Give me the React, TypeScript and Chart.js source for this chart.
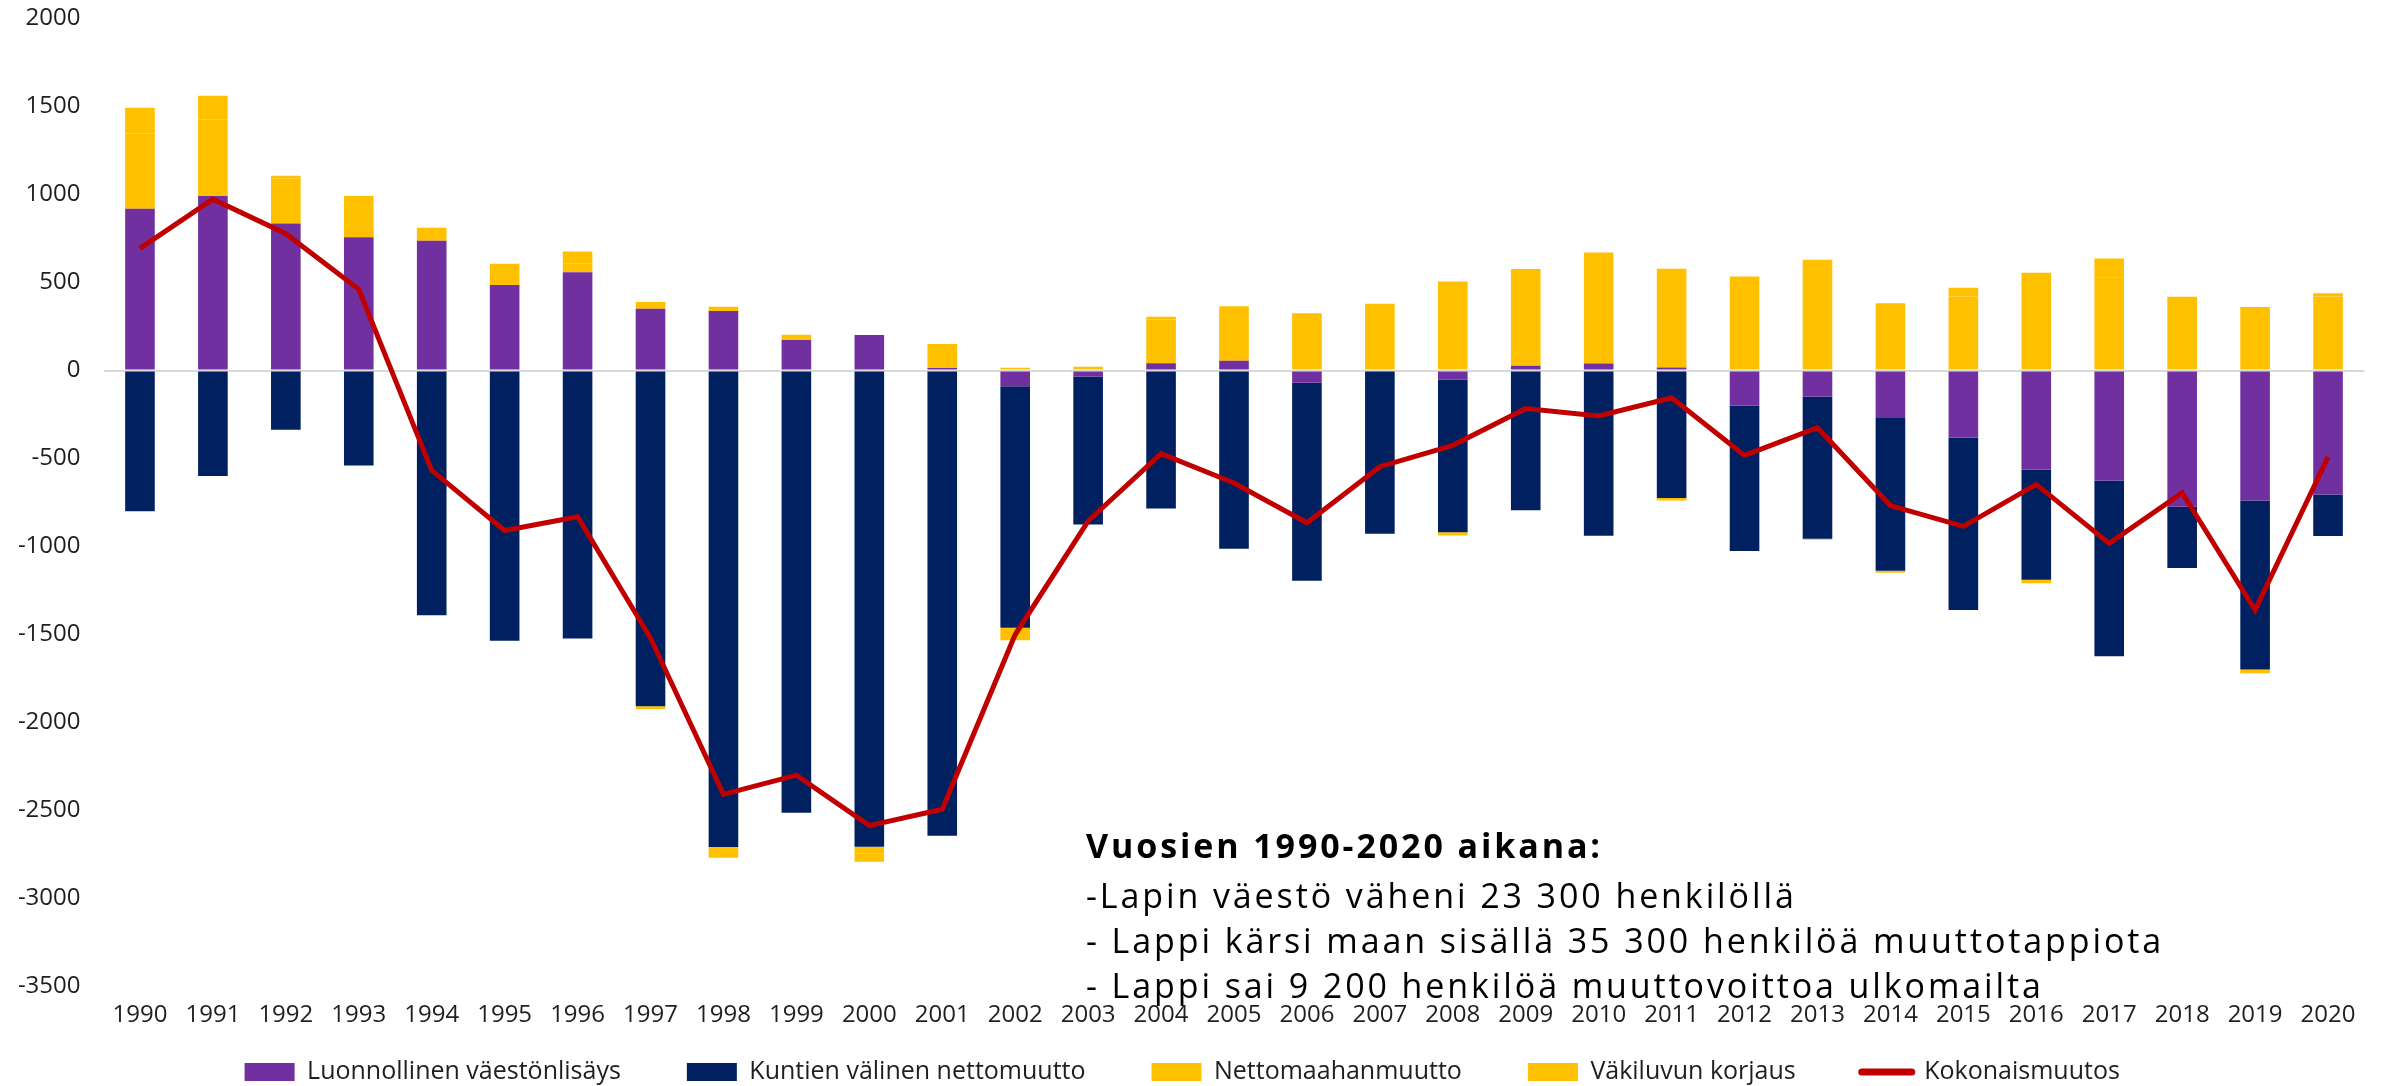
import { useEffect, useRef } from 'react';
import { Chart, registerables } from 'chart.js';

Chart.register(...registerables);

const YEARS = ['1990', '1991', '1992', '1993', '1994', '1995', '1996', '1997', '1998', '1999', '2000', '2001', '2002', '2003', '2004', '2005', '2006', '2007', '2008', '2009', '2010', '2011', '2012', '2013', '2014', '2015', '2016', '2017', '2018', '2019', '2020'];

const NATURAL = [920, 992, 835, 758, 738, 486, 558, 351, 339, 173, 202, 14, -89, -34, 42, 56, -69, 0, -52, 28, 40, 18, -200, -149, -270, -381, -562, -625, -774, -738, -704];
const INTERNAL = [-800, -599, -337, -540, -1391, -1535, -1523, -1908, -2708, -2513, -2706, -2643, -1373, -841, -784, -1012, -1125, -927, -867, -794, -938, -724, -826, -807, -868, -980, -627, -998, -348, -960, -236];
const IMMIGRATION = [427, 435, 256, 234, 50, 121, 51, 38, 24, 31, -38, 137, 16, 22, 248, 309, 304, 379, 506, 549, 631, 561, 534, 629, 383, 421, 556, 528, 419, 361, 421];
const CORRECTION = [147, 135, 16, 0, 24, 0, 68, -16, -61, 0, -47, 0, -71, 0, 16, 0, 21, 0, -18, 0, 0, -14, 0, -6, -11, 49, -19, 109, 0, -22, 19];
const TOTAL = [694, 974, 778, 462, -567, -909, -831, -1520, -2408, -2299, -2586, -2493, -1500, -855, -472, -639, -865, -546, -425, -216, -258, -155, -482, -325, -767, -885, -647, -982, -694, -1361, -492];

const Y_MIN = -3500;
const Y_MAX = 2000;
const Y_STEP = 500;

const SERIES_NAMES = ['Kokonaismuutos', 'Luonnollinen väestönlisäys', 'Kuntien välinen nettomuutto', 'Nettomaahanmuutto', 'Väkiluvun korjaus'];

const NOTE_TITLE = 'Vuosien 1990-2020 aikana:';
const NOTE_LINES = [
  '-Lapin väestö väheni 23 300 henkilöllä',
  '- Lappi kärsi maan sisällä 35 300 henkilöä muuttotappiota',
  '- Lappi sai 9 200 henkilöä muuttovoittoa ulkomailta',
];

const FONT = "'Open Sans', sans-serif";
const TEXT = '#1f1f1f';

const legendPlacer = {
  id: 'legendPlacer',
  afterLayout(chart: any) {
    const lg = chart.legend;
    if (!lg) return;
    lg.top = 993.5;
    lg.bottom = 1086;
    lg.height = 92.5;
  },
};

export default function App() {
  const ref = useRef<HTMLCanvasElement>(null);

  useEffect(() => {
    const canvas = ref.current;
    if (!canvas) return;
    const chart = new Chart(canvas, {
      type: 'bar',
      data: {
        labels: YEARS,
        datasets: [
          {
            type: 'line',
            label: SERIES_NAMES[0],
            data: TOTAL,
            borderColor: '#C00000',
            backgroundColor: '#C00000',
            borderWidth: 5,
            pointRadius: 0,
            pointHoverRadius: 0,
            tension: 0,
            stack: 'total',
          } as any,
          { label: SERIES_NAMES[1], data: NATURAL, backgroundColor: '#7030A0', stack: 'bars' },
          { label: SERIES_NAMES[2], data: INTERNAL, backgroundColor: '#002060', stack: 'bars' },
          { label: SERIES_NAMES[3], data: IMMIGRATION, backgroundColor: '#FFC000', stack: 'bars' },
          { label: SERIES_NAMES[4], data: CORRECTION, backgroundColor: '#FFC000', stack: 'bars' },
        ],
      },
      options: {
        responsive: false,
        animation: false,
        devicePixelRatio: 1,
        layout: { padding: { left: 0, right: 22.5, top: 18.6, bottom: 41.7 } },
        datasets: { bar: { barPercentage: 0.406, categoryPercentage: 1 } },
        scales: {
          x: {
            stacked: true,
            grid: { display: false, drawTicks: false },
            border: { display: false },
            ticks: { font: { family: FONT, size: 24 }, color: TEXT, padding: 14, maxRotation: 0, autoSkip: false },
          },
          y: {
            stacked: true,
            min: Y_MIN,
            max: Y_MAX,
            ticks: {
              stepSize: Y_STEP,
              font: { family: FONT, size: 24 },
              color: TEXT,
              padding: 23,
              callback: (v: any) => String(v),
            },
            grid: {
              color: (c: any) => (c.tick && c.tick.value === 0 ? '#D9D9D9' : 'rgba(0,0,0,0)'),
              lineWidth: 2,
              drawTicks: false,
            },
            border: { display: false },
            afterFit: (s: any) => {
              s.width = 103.5;
              s.paddingTop = 0;
              s.paddingBottom = 0;
            },
          },
        },
        plugins: {
          tooltip: { enabled: false },
          legend: {
            position: 'bottom',
            maxHeight: 1,
            labels: {
              usePointStyle: true,
              pointStyleWidth: 50,
              boxHeight: 18,
              padding: 66,
              font: { family: FONT, size: 25 },
              color: TEXT,
              generateLabels: (ch: any) => {
                const items = Chart.defaults.plugins.legend.labels.generateLabels(ch);
                return items.map((it: any) =>
                  it.datasetIndex === 0
                    ? { ...it, pointStyle: 'line', lineWidth: 7, strokeStyle: '#C00000', lineCap: 'round' }
                    : { ...it, pointStyle: 'rect', lineWidth: 0 }
                );
              },
              sort: (a: any, b: any) => {
                const ra = a.datasetIndex === 0 ? 99 : a.datasetIndex;
                const rb = b.datasetIndex === 0 ? 99 : b.datasetIndex;
                return ra - rb;
              },
            },
          },
        },
      } as any,
      plugins: [legendPlacer],
    });
    return () => chart.destroy();
  }, []);

  return (
    <div style={{ position: 'fixed', left: 0, top: 0, width: 2387, height: 1086, background: '#fff' }}>
      <canvas ref={ref} width={2387} height={1086} style={{ display: 'block', width: 2387, height: 1086 }} />
      <div
        style={{
          position: 'absolute',
          left: 1086,
          top: 823.4,
          fontFamily: FONT,
          fontSize: 34,
          letterSpacing: '2.9px',
          lineHeight: '45.3px',
          color: '#000',
          whiteSpace: 'nowrap',
        }}
      >
        <div style={{ fontWeight: 700, marginBottom: 4 }}>{NOTE_TITLE}</div>
        {NOTE_LINES.map((l) => (
          <div key={l}>{l}</div>
        ))}
      </div>
    </div>
  );
}
